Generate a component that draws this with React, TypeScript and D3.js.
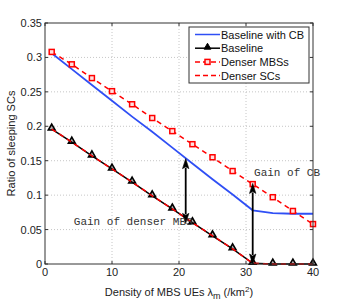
import * as d3 from "d3";
import React from "react";

// sample points along the x axis (density of MBS UEs)
const density = [1, 4, 7, 10, 13, 16, 19, 22, 25, 28, 31, 34, 37, 40];

const baselineCB = [0.306, 0.283, 0.260, 0.237, 0.214, 0.192, 0.169, 0.146, 0.123, 0.101, 0.078, 0.074, 0.073, 0.073];
const baseline = [0.196, 0.177, 0.157, 0.138, 0.119, 0.099, 0.080, 0.060, 0.041, 0.022, 0.001, 0, 0, 0];
const denserMBS = [0.308, 0.290, 0.270, 0.251, 0.232, 0.212, 0.193, 0.174, 0.155, 0.135, 0.116, 0.097, 0.077, 0.058];
const denserSC = [0.196, 0.177, 0.157, 0.138, 0.119, 0.099, 0.080, 0.060, 0.041, 0.022, 0.001, 0, 0, 0];

const xTicks = [0, 10, 20, 30, 40];
const yTicks = [0, 0.05, 0.1, 0.15, 0.2, 0.25, 0.3, 0.35];

const legendNames = ["Baseline with CB", "Baseline", "Denser MBSs", "Denser SCs"];

// double arrows marking the gains
const arrows = [
    { x: 21, from: 0.059, to: 0.153 },
    { x: 31, from: 0.0, to: 0.117 },
];
const notes = [
    { x: 31.2, y: 0.128, text: "Gain of CB" },
    { x: 4.3, y: 0.056, text: "Gain of denser MBS" },
];

const fullwidth = 346;
const fullheight = 302;
let margin = { top: 23, right: 33, bottom: 38, left: 45 };
const width = fullwidth - margin.left - margin.right;
const height = fullheight - margin.top - margin.bottom;

const xScale = d3.scaleLinear().domain([0, 40]).range([0, width]);
const yScale = d3.scaleLinear().domain([0, 0.35]).range([height, 0]);

function pts(vals: number[]) {
    return density.map((d, i) => [d, vals[i]] as [number, number]);
}

const line = d3.line<[number, number]>()
    .x(d => xScale(d[0]))
    .y(d => yScale(d[1]));

const tri = d3.symbol().type(d3.symbolTriangle).size(20);

function DoubleArrow({ x, y1, y2 }: { x: number, y1: number, y2: number }) {
    // y1 is the lower tip, y2 the upper tip (pixels)
    const hl = 10, hw = 3.2;
    return <g>
        <line x1={x} x2={x} y1={y1 - hl + 1} y2={y2 + hl - 1} stroke="#000" strokeWidth={1.8} />
        <path d={`M${x},${y2} L${x - hw},${y2 + hl} L${x},${y2 + hl - 2} L${x + hw},${y2 + hl} Z`} fill="#000" stroke="#000" strokeWidth={0.6} />
        <path d={`M${x},${y1} L${x - hw},${y1 - hl} L${x},${y1 - hl + 2} L${x + hw},${y1 - hl} Z`} fill="#000" stroke="#000" strokeWidth={0.6} />
    </g>;
}

export default function App() {
    const font = "'Liberation Sans', Arial, sans-serif";
    const mono = "'Liberation Mono', 'Courier New', monospace";

    const legendX = 189 - margin.left;
    const legendY = 27 - margin.top;

    return <svg width={fullwidth} height={fullheight} style={{ position: "absolute", left: 0, top: 0, background: "#fff" }}>
        <g transform={`translate(${margin.left},${margin.top})`}>
            {/* grid */}
            {xTicks.slice(1, -1).map(t =>
                <line key={"gx" + t} x1={xScale(t)} x2={xScale(t)} y1={0} y2={height} stroke="#b8b8b8" strokeWidth={0.8} strokeDasharray="1,2" />)}
            {yTicks.slice(1, -1).map(t =>
                <line key={"gy" + t} x1={0} x2={width} y1={yScale(t)} y2={yScale(t)} stroke="#b8b8b8" strokeWidth={0.8} strokeDasharray="1,2" />)}

            {/* series */}
            <path d={line(pts(baselineCB)) || ""} fill="none" stroke="#2f4ff5" strokeWidth={1.8} />
            <path d={line(pts(baseline)) || ""} fill="none" stroke="#000" strokeWidth={1.5} />
            {pts(baseline).map((d, i) =>
                <path key={"t" + i} d={tri() || ""} transform={`translate(${xScale(d[0])},${yScale(d[1]) - 1})`} fill="#222" fillOpacity={0.35} stroke="#000" strokeWidth={1.6} />)}
            <path d={line(pts(denserMBS)) || ""} fill="none" stroke="#ff0000" strokeWidth={1.5} strokeDasharray="5,4" />
            {pts(denserMBS).map((d, i) =>
                <rect key={"s" + i} x={xScale(d[0]) - 2.5} y={yScale(d[1]) - 2.5} width={5} height={5} fill="#ffe0e0" stroke="#ff0000" strokeWidth={1.5} />)}
            <path d={line(pts(denserSC)) || ""} fill="none" stroke="#ff0000" strokeWidth={1.5} strokeDasharray="5,4" />

            {/* arrows */}
            {arrows.map((a, i) =>
                <DoubleArrow key={"a" + i} x={xScale(a.x)} y1={yScale(a.from)} y2={yScale(a.to)} />)}
            {notes.map((n, i) =>
                <text key={"n" + i} x={xScale(n.x)} y={yScale(n.y)} fontFamily={mono} fontSize={11} fill="#333">{n.text}</text>)}

            {/* frame */}
            <rect x={0} y={0} width={width} height={height} fill="none" stroke="#333" strokeWidth={1} />
            {xTicks.map(t => <g key={"xt" + t}>
                <line x1={xScale(t)} x2={xScale(t)} y1={height} y2={height - 3} stroke="#333" />
                <line x1={xScale(t)} x2={xScale(t)} y1={0} y2={3} stroke="#333" />
                <text x={xScale(t)} y={height + 12} textAnchor="middle" fontFamily={font} fontSize={11} fill="#222">{t}</text>
            </g>)}
            {yTicks.map(t => <g key={"yt" + t}>
                <line x1={0} x2={3} y1={yScale(t)} y2={yScale(t)} stroke="#333" />
                <line x1={width} x2={width - 3} y1={yScale(t)} y2={yScale(t)} stroke="#333" />
                <text x={-3} y={yScale(t) + 4} textAnchor="end" fontFamily={font} fontSize={11} fill="#222">{t}</text>
            </g>)}

            {/* axis labels */}
            <text x={width / 2} y={height + 32} textAnchor="middle" fontFamily={font} fontSize={11} fill="#222">
                Density of MBS UEs λ<tspan dy={3} fontSize={9}>m</tspan><tspan dy={-3}> (/km</tspan><tspan dy={-4} fontSize={8}>2</tspan><tspan dy={4}>)</tspan>
            </text>
            <text transform={`translate(${-30},${height / 2}) rotate(-90)`} textAnchor="middle" fontFamily={font} fontSize={11} fill="#222">Ratio of sleeping SCs</text>

            {/* legend */}
            <g transform={`translate(${legendX},${legendY})`}>
                <rect x={0} y={0} width={120} height={56} fill="#fff" stroke="#333" strokeWidth={1} />
                {legendNames.map((name, i) => {
                    const y = 7.5 + i * 13.7;
                    return <g key={name}>
                        <line x1={6} x2={31} y1={y} y2={y} stroke={i === 0 ? "#2f4ff5" : i === 1 ? "#000" : "#ff0000"} strokeWidth={1.5}
                            strokeDasharray={i >= 2 ? "5,3" : undefined} />
                        {i === 1 && <path d={tri() || ""} transform={`translate(18.5,${y - 1})`} fill="#000" stroke="#000" strokeWidth={1} />}
                        {i === 2 && <rect x={16} y={y - 2.5} width={5} height={5} fill="#ffe0e0" stroke="#ff0000" strokeWidth={1.5} />}
                        <text x={32} y={y + 4} fontFamily={font} fontSize={11} fill="#111">{name}</text>
                    </g>;
                })}
            </g>
        </g>
    </svg>;
}
